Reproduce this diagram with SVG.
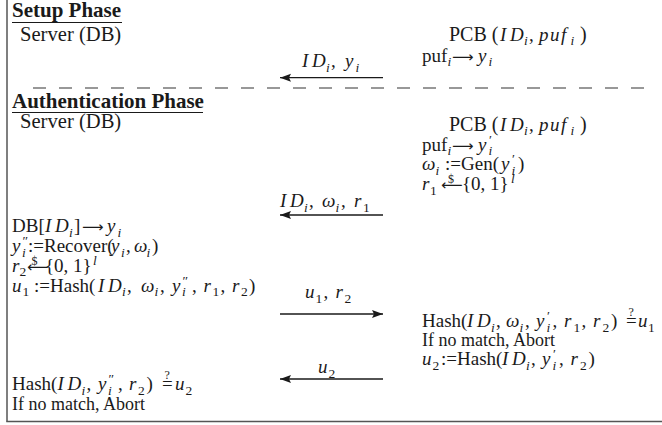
<svg xmlns="http://www.w3.org/2000/svg" width="662" height="425" viewBox="0 0 662 425">
<defs>
<style>
.t{font-family:"Liberation Serif","Times New Roman",serif;font-size:19px;fill:#1a1a1a}
.big{font-size:20.6px}
.h{font-weight:bold;font-size:21px}
.m{font-style:italic}
.s{font-size:13.5px}
.aw{font-family:"DejaVu Sans",sans-serif;font-size:15px}
.q{font-family:"Liberation Serif",serif;font-size:12px;fill:#1a1a1a}
.ar{stroke:#1a1a1a;stroke-width:1.3;fill:none}
.ul{stroke:#1a1a1a;stroke-width:1.2}
</style>
<marker id="ah" markerUnits="userSpaceOnUse" markerWidth="12" markerHeight="10" refX="11" refY="4" orient="auto">
<path d="M0,0 L11,4 L0,8 L2,4 z" fill="#1a1a1a"/>
</marker>
</defs>
<rect width="662" height="425" fill="#fff"/>
<g id="frame">
<line x1="7" y1="0" x2="7" y2="421.5" stroke="#555" stroke-width="1.5"/>
<line x1="6.25" y1="421.5" x2="662" y2="421.5" stroke="#555" stroke-width="1.5"/>
<line x1="33" y1="88" x2="645" y2="88" stroke="#777" stroke-width="1.5" stroke-dasharray="13 13"/>
</g>
<g id="setup-header">
<text class="t h" x="12" y="16.5">Setup Phase</text>
<line class="ul" x1="12" y1="22.5" x2="122" y2="22.5"/>
</g>
<g id="setup-server">
<text class="t big" x="20" y="40.5">Server (DB)</text>
</g>
<g id="setup-pcb">
<text class="t"><tspan x="449" y="40.5" style="font-size:20px">PCB (</tspan><tspan class="m" x="500" y="40.5">I</tspan><tspan class="m" x="510" y="40.5">D</tspan><tspan class="m s" x="524" y="45">i</tspan><tspan x="529" y="40.5">,</tspan><tspan class="m" x="539" y="40.5">p</tspan><tspan class="m" x="550" y="40.5">u</tspan><tspan class="m" x="561" y="40.5">f</tspan><tspan class="m s" x="570.5" y="45">i</tspan><tspan x="580" y="40.5" style="font-size:20px">)</tspan></text>
<text class="t"><tspan x="422" y="61.5">puf</tspan><tspan class="m s" x="447.5" y="66">i</tspan><tspan class="aw" x="452" y="61.5">⟶</tspan><tspan class="m" x="478" y="61.5">y</tspan><tspan class="m s" x="488.5" y="66">i</tspan></text>
</g>
<g id="auth-header">
<text class="t h" x="12" y="108">Authentication Phase</text>
<line class="ul" x1="12" y1="112.5" x2="203" y2="112.5"/>
</g>
<g id="auth-server">
<text class="t big" x="20" y="128">Server (DB)</text>
<text class="t"><tspan x="12" y="232">DB[</tspan><tspan class="m" x="45" y="232">I</tspan><tspan class="m" x="55" y="232">D</tspan><tspan class="m s" x="69" y="236.5">i</tspan><tspan x="74" y="232">]</tspan><tspan class="aw" x="82" y="232">⟶</tspan><tspan class="m" x="107" y="232">y</tspan><tspan class="m s" x="117.5" y="236.5">i</tspan></text>
<text class="t"><tspan class="m" x="12" y="252">y</tspan><tspan class="s" x="22.5" y="245">″</tspan><tspan class="m s" x="22" y="256.5">i</tspan><tspan x="28" y="252">:=Recover(</tspan><tspan class="m" x="111" y="252">y</tspan><tspan class="m s" x="121" y="256.5">i</tspan><tspan x="126" y="252">,</tspan><tspan class="m" x="134" y="252">ω</tspan><tspan class="m s" x="146.5" y="256.5">i</tspan><tspan x="152" y="252">)</tspan></text>
<text class="t"><tspan class="m" x="12" y="271.5">r</tspan><tspan class="s" x="19.5" y="276">2</tspan><tspan class="aw" x="27" y="271.5">⟵</tspan><tspan x="45" y="271.5">{0, 1}</tspan><tspan class="m s" x="93" y="264.5">l</tspan></text>
<text class="q" x="31.5" y="264.5">$</text>
<text class="t"><tspan class="m" x="12" y="291.5">u</tspan><tspan class="s" x="22.5" y="296">1</tspan><tspan x="34" y="291.5">:=Hash(</tspan><tspan class="m" x="98" y="291.5">I</tspan><tspan class="m" x="108" y="291.5">D</tspan><tspan class="m s" x="122" y="296">i</tspan><tspan x="127" y="291.5">,</tspan><tspan class="m" x="141" y="291.5">ω</tspan><tspan class="m s" x="154.5" y="296">i</tspan><tspan x="160" y="291.5">,</tspan><tspan class="m" x="172" y="291.5">y</tspan><tspan class="s" x="182.5" y="284.5">″</tspan><tspan class="m s" x="182" y="296">i</tspan><tspan x="192" y="291.5">,</tspan><tspan class="m" x="203.5" y="291.5">r</tspan><tspan class="s" x="212.5" y="296">1</tspan><tspan x="220.5" y="291.5">,</tspan><tspan class="m" x="232" y="291.5">r</tspan><tspan class="s" x="241" y="296">2</tspan><tspan x="249" y="291.5">)</tspan></text>
<text class="t"><tspan x="12" y="390">Hash(</tspan><tspan class="m" x="57.5" y="390">I</tspan><tspan class="m" x="67.5" y="390">D</tspan><tspan class="m s" x="81.5" y="394.5">i</tspan><tspan x="86.5" y="390">,</tspan><tspan class="m" x="98" y="390">y</tspan><tspan class="s" x="108.5" y="383">″</tspan><tspan class="m s" x="108" y="394.5">i</tspan><tspan x="118" y="390">,</tspan><tspan class="m" x="129" y="390">r</tspan><tspan class="s" x="138" y="394.5">2</tspan><tspan x="146.5" y="390">)</tspan><tspan x="162" y="390">=</tspan><tspan class="m" x="175" y="390">u</tspan><tspan class="s" x="185.5" y="394.5">2</tspan></text>
<text class="q" x="164.5" y="379">?</text>
<text class="t" x="12" y="410" style="font-size:18px">If no match, Abort</text>
</g>
<g id="auth-pcb">
<text class="t"><tspan x="449" y="130.5" style="font-size:20px">PCB (</tspan><tspan class="m" x="500" y="130.5">I</tspan><tspan class="m" x="510" y="130.5">D</tspan><tspan class="m s" x="524" y="135">i</tspan><tspan x="529" y="130.5">,</tspan><tspan class="m" x="539" y="130.5">p</tspan><tspan class="m" x="550" y="130.5">u</tspan><tspan class="m" x="561" y="130.5">f</tspan><tspan class="m s" x="570.5" y="135">i</tspan><tspan x="580" y="130.5" style="font-size:20px">)</tspan></text>
<text class="t"><tspan x="422" y="150.5">puf</tspan><tspan class="m s" x="447.5" y="155">i</tspan><tspan class="aw" x="452" y="150.5">⟶</tspan><tspan class="m" x="478" y="150.5">y</tspan><tspan class="s" x="489" y="143.5">′</tspan><tspan class="m s" x="488.5" y="155">i</tspan></text>
<text class="t"><tspan class="m" x="422" y="170">ω</tspan><tspan class="m s" x="435.5" y="174.5">i</tspan><tspan x="445" y="170">:=Gen(</tspan><tspan class="m" x="501" y="170">y</tspan><tspan class="s" x="512" y="163">′</tspan><tspan class="m s" x="511.5" y="174.5">i</tspan><tspan x="518" y="170">)</tspan></text>
<text class="t"><tspan class="m" x="422" y="190">r</tspan><tspan class="s" x="430" y="194.5">1</tspan><tspan class="aw" x="441" y="190">⟵</tspan><tspan x="462" y="190">{0, 1}</tspan><tspan class="m s" x="511" y="183">l</tspan></text>
<text class="q" x="448" y="183">$</text>
<text class="t"><tspan x="422" y="327">Hash(</tspan><tspan class="m" x="467" y="327">I</tspan><tspan class="m" x="477" y="327">D</tspan><tspan class="m s" x="491" y="331.5">i</tspan><tspan x="496" y="327">,</tspan><tspan class="m" x="506" y="327">ω</tspan><tspan class="m s" x="519.5" y="331.5">i</tspan><tspan x="525" y="327">,</tspan><tspan class="m" x="536" y="327">y</tspan><tspan class="s" x="547" y="320">′</tspan><tspan class="m s" x="546.5" y="331.5">i</tspan><tspan x="552.5" y="327">,</tspan><tspan class="m" x="564" y="327">r</tspan><tspan class="s" x="573.5" y="331.5">1</tspan><tspan x="581.5" y="327">,</tspan><tspan class="m" x="593" y="327">r</tspan><tspan class="s" x="602.5" y="331.5">2</tspan><tspan x="611" y="327">)</tspan><tspan x="626" y="327">=</tspan><tspan class="m" x="638" y="327">u</tspan><tspan class="s" x="648" y="331.5">1</tspan></text>
<text class="q" x="628.5" y="316">?</text>
<text class="t" x="422" y="346" style="font-size:18px">If no match, Abort</text>
<text class="t"><tspan class="m" x="422" y="365">u</tspan><tspan class="s" x="432.5" y="369.5">2</tspan><tspan x="441" y="365">:=Hash(</tspan><tspan class="m" x="502" y="365">I</tspan><tspan class="m" x="512" y="365">D</tspan><tspan class="m s" x="526" y="369.5">i</tspan><tspan x="531" y="365">,</tspan><tspan class="m" x="542" y="365">y</tspan><tspan class="s" x="553" y="358">′</tspan><tspan class="m s" x="552.5" y="369.5">i</tspan><tspan x="559" y="365">,</tspan><tspan class="m" x="570.5" y="365">r</tspan><tspan class="s" x="580" y="369.5">2</tspan><tspan x="588.5" y="365">)</tspan></text>
</g>
<g id="connectors">
<line class="ar" x1="383" y1="77.7" x2="280" y2="77.7" marker-end="url(#ah)"/>
<text class="t"><tspan class="m" x="302" y="67">I</tspan><tspan class="m" x="312" y="67">D</tspan><tspan class="m s" x="326" y="71.5">i</tspan><tspan x="331" y="67">,</tspan><tspan class="m" x="345" y="67">y</tspan><tspan class="m s" x="355.5" y="71.5">i</tspan></text>
<line class="ar" x1="383" y1="215" x2="280" y2="215" marker-end="url(#ah)"/>
<text class="t"><tspan class="m" x="280" y="207">I</tspan><tspan class="m" x="290" y="207">D</tspan><tspan class="m s" x="304" y="211.5">i</tspan><tspan x="309" y="207">,</tspan><tspan class="m" x="322" y="207">ω</tspan><tspan class="m s" x="335.5" y="211.5">i</tspan><tspan x="341" y="207">,</tspan><tspan class="m" x="354" y="207">r</tspan><tspan class="s" x="363" y="211.5">1</tspan></text>
<line class="ar" x1="280" y1="314" x2="383" y2="314" marker-end="url(#ah)"/>
<text class="t"><tspan class="m" x="305" y="298">u</tspan><tspan class="s" x="315.5" y="302.5">1</tspan><tspan x="323.5" y="298">,</tspan><tspan class="m" x="335.5" y="298">r</tspan><tspan class="s" x="344.5" y="302.5">2</tspan></text>
<line class="ar" x1="383" y1="379" x2="280" y2="379" marker-end="url(#ah)"/>
<text class="t"><tspan class="m" x="318" y="373">u</tspan><tspan class="s" x="328.5" y="377.5">2</tspan></text>
</g>
</svg>
